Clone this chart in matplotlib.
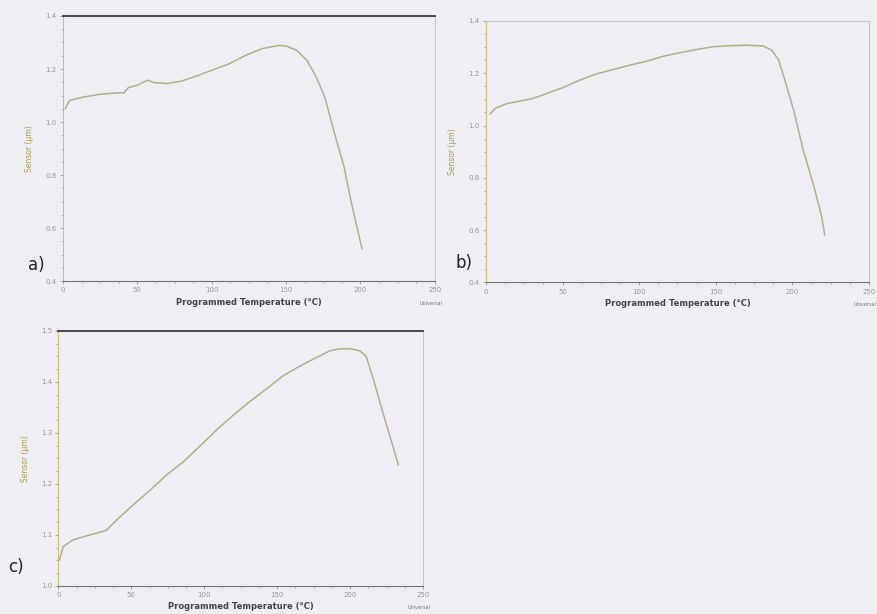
import matplotlib.pyplot as plt
from matplotlib.ticker import AutoMinorLocator

# Panel a)
temp_a = [1.6, 4.5, 13.6, 25, 36, 41, 44, 50, 57, 61, 70, 80, 91, 100, 111, 123, 134,
          145, 150, 157, 164, 170, 176, 182, 189, 194, 201]
sens_a = [1.051, 1.082, 1.094, 1.105, 1.110, 1.110, 1.130, 1.139, 1.158, 1.149, 1.145,
          1.155, 1.176, 1.195, 1.218, 1.252, 1.277, 1.289, 1.287, 1.271, 1.233, 1.173,
          1.095, 0.969, 0.831, 0.693, 0.523]

# Panel b)
temp_b = [2.8, 6, 13.7, 22, 31, 40, 50.7, 61.5, 72, 83, 94, 105, 116, 127, 138, 148,
          159, 170, 181, 186.5, 191, 195, 200.7, 207, 214, 219, 221]
sens_b = [1.044, 1.065, 1.084, 1.093, 1.104, 1.123, 1.146, 1.174, 1.197, 1.214, 1.231,
          1.246, 1.265, 1.279, 1.291, 1.301, 1.305, 1.307, 1.304, 1.288, 1.250, 1.174,
          1.060, 0.907, 0.767, 0.653, 0.583]

# Panel c)
temp_c = [0.7, 3.4, 10, 19.4, 28.5, 33, 40, 51, 63, 74, 85.6, 97, 108.5, 120, 131, 143,
          154, 165.5, 177, 186, 193, 200, 206.6, 211, 216, 222.6, 228, 233]
sens_c = [1.050, 1.077, 1.090, 1.098, 1.105, 1.109, 1.129, 1.158, 1.188, 1.217, 1.243,
          1.274, 1.306, 1.335, 1.361, 1.387, 1.412, 1.431, 1.448, 1.461, 1.465, 1.465,
          1.461, 1.450, 1.404, 1.338, 1.286, 1.237]

bg = "#eeeef4"
curve = "#b3b08a"

fig = plt.figure(figsize=(8.77, 6.14), dpi=100, facecolor=bg)

# rect, x, y, ylim, yticks, tag, tag position, dark top line
panels = [
    ([0.0718, 0.542, 0.424, 0.432], temp_a, sens_a, (0.4, 1.4),
     [0.4, 0.6, 0.8, 1.0, 1.2, 1.4], "a)", (-0.05, 0.06), True),
    ([0.554, 0.540, 0.437, 0.426], temp_b, sens_b, (0.4, 1.4),
     [0.4, 0.6, 0.8, 1.0, 1.2, 1.4], "b)", (-0.035, 0.075), False),
    ([0.0665, 0.046, 0.416, 0.415], temp_c, sens_c, (1.0, 1.5),
     [1.0, 1.1, 1.2, 1.3, 1.4, 1.5], "c)", (-0.095, 0.075), True),
]

for rect, x, y, ylim, yticks, tag, tagpos, dark_top in panels:
    ax = fig.add_axes(rect)
    ax.set_facecolor(bg)
    ax.plot(x, y, color=curve, linewidth=1.1)
    ax.set_xlim(0, 250)
    ax.set_ylim(*ylim)
    ax.set_xticks([0, 50, 100, 150, 200, 250])
    ax.set_yticks(yticks)
    ax.set_yticklabels([f"{v:.1f}" for v in yticks])
    ax.xaxis.set_minor_locator(AutoMinorLocator(4))
    ax.yaxis.set_minor_locator(AutoMinorLocator(4))
    ax.tick_params(which="both", direction="out", colors="#9a9a9a", labelsize=5, pad=2)
    ax.tick_params(which="major", length=2.5, width=0.6)
    ax.tick_params(which="minor", length=1.5, width=0.5)
    ax.spines["left"].set_color("#c8c27a")
    ax.spines["bottom"].set_color("#707070")
    ax.spines["right"].set_color("#c8c8cc")
    if dark_top:
        ax.spines["top"].set_color("#3a3a3a")
        ax.spines["top"].set_linewidth(1.3)
    else:
        ax.spines["top"].set_color("#c8c8cc")
    ax.set_ylabel("Sensor (µm)", color="#a8a050", fontsize=5.5, labelpad=8)
    ax.set_xlabel("Programmed Temperature (°C)", fontsize=6, fontweight="bold",
                  color="#444444", labelpad=3)
    ax.text(1.02, -0.075, "Universal", transform=ax.transAxes, fontsize=3.5,
            color="#777777", ha="right", va="top")
    ax.text(tagpos[0], tagpos[1], tag, transform=ax.transAxes, fontsize=12,
            color="#222222", ha="right", va="center")

fig.savefig("out.png", dpi=100, facecolor=bg)
